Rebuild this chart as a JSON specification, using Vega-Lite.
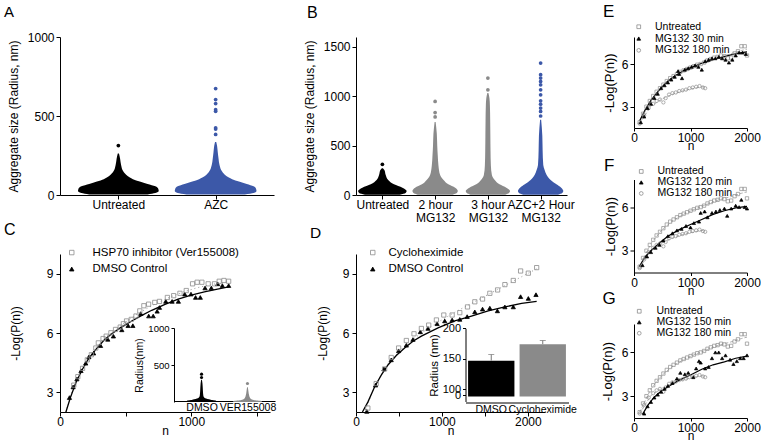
{
"$schema":"https://vega.github.io/schema/vega-lite/v6.json",
"padding":{"left":4,"top":3,"right":0,"bottom":0},
"config":{
 "view":{"stroke":null},
 "font":"Liberation Sans",
 "axis":{"domainColor":"#000","tickColor":"#000","labelColor":"#000","titleColor":"#000","grid":false,"titleFontWeight":"normal","labelFontSize":12,"titleFontSize":12,"tickSize":4,"labelPadding":2,"labelFlush":false,"labelOverlap":false,"labelBound":false,"labelFont":"Liberation Sans","titleFont":"Liberation Sans"},
 "title":{"fontWeight":"normal","anchor":"start","frame":"group","color":"#000","offset":4,"font":"Liberation Sans"},
 "legend":{"padding":0,"labelFontSize":11,"labelColor":"#000","symbolStrokeWidth":0.8,"labelFont":"Liberation Sans"}
},
"datasets":{
 "swA":[
  {"g":"Untreated","v":3,"lo":0.7,"hi":1.3},{"g":"Untreated","v":12,"lo":0.62,"hi":1.38},{"g":"Untreated","v":25,"lo":0.585,"hi":1.415},{"g":"Untreated","v":40,"lo":0.59,"hi":1.41},{"g":"Untreated","v":55,"lo":0.62,"hi":1.38},{"g":"Untreated","v":70,"lo":0.7,"hi":1.3},{"g":"Untreated","v":85,"lo":0.78,"hi":1.22},{"g":"Untreated","v":100,"lo":0.85,"hi":1.15},{"g":"Untreated","v":120,"lo":0.905,"hi":1.095},{"g":"Untreated","v":150,"lo":0.95,"hi":1.05},{"g":"Untreated","v":190,"lo":0.972,"hi":1.028},{"g":"Untreated","v":230,"lo":0.982,"hi":1.018},{"g":"Untreated","v":262,"lo":0.994,"hi":1.006},
  {"g":"AZC","v":3,"lo":1.7,"hi":2.3},{"g":"AZC","v":12,"lo":1.61,"hi":2.39},{"g":"AZC","v":25,"lo":1.58,"hi":2.42},{"g":"AZC","v":40,"lo":1.585,"hi":2.415},{"g":"AZC","v":55,"lo":1.61,"hi":2.39},{"g":"AZC","v":70,"lo":1.68,"hi":2.32},{"g":"AZC","v":85,"lo":1.76,"hi":2.24},{"g":"AZC","v":100,"lo":1.83,"hi":2.17},{"g":"AZC","v":120,"lo":1.89,"hi":2.11},{"g":"AZC","v":150,"lo":1.935,"hi":2.065},{"g":"AZC","v":190,"lo":1.96,"hi":2.04},{"g":"AZC","v":230,"lo":1.97,"hi":2.03},{"g":"AZC","v":270,"lo":1.978,"hi":2.022},{"g":"AZC","v":310,"lo":1.985,"hi":2.015},{"g":"AZC","v":335,"lo":1.994,"hi":2.006}
 ],
 "ptA":[
  {"g":"Untreated","pos":1,"v":313},
  {"g":"AZC","pos":2,"v":383},{"g":"AZC","pos":2,"v":417},{"g":"AZC","pos":2,"v":425},{"g":"AZC","pos":2,"v":530},{"g":"AZC","pos":2,"v":540},{"g":"AZC","pos":2,"v":579},{"g":"AZC","pos":2,"v":604},{"g":"AZC","pos":2,"v":674}
 ],
 "swB":[
  {"g":"Untreated","v":3,"lo":0.67,"hi":1.33},{"g":"Untreated","v":20,"lo":0.56,"hi":1.44},{"g":"Untreated","v":40,"lo":0.54,"hi":1.46},{"g":"Untreated","v":74,"lo":0.62,"hi":1.38},{"g":"Untreated","v":108,"lo":0.78,"hi":1.22},{"g":"Untreated","v":152,"lo":0.89,"hi":1.11},{"g":"Untreated","v":203,"lo":0.937,"hi":1.063},{"g":"Untreated","v":254,"lo":0.962,"hi":1.038},{"g":"Untreated","v":272,"lo":0.99,"hi":1.01},
  {"g":"2 hour","v":3,"lo":1.67,"hi":2.33},{"g":"2 hour","v":20,"lo":1.59,"hi":2.41},{"g":"2 hour","v":40,"lo":1.57,"hi":2.43},{"g":"2 hour","v":74,"lo":1.62,"hi":2.38},{"g":"2 hour","v":108,"lo":1.75,"hi":2.25},{"g":"2 hour","v":152,"lo":1.84,"hi":2.16},{"g":"2 hour","v":203,"lo":1.905,"hi":2.095},{"g":"2 hour","v":300,"lo":1.937,"hi":2.063},{"g":"2 hour","v":400,"lo":1.95,"hi":2.05},{"g":"2 hour","v":500,"lo":1.96,"hi":2.04},{"g":"2 hour","v":620,"lo":1.968,"hi":2.032},{"g":"2 hour","v":740,"lo":1.99,"hi":2.01},
  {"g":"3 hour","v":3,"lo":2.67,"hi":3.33},{"g":"3 hour","v":20,"lo":2.6,"hi":3.4},{"g":"3 hour","v":40,"lo":2.58,"hi":3.42},{"g":"3 hour","v":74,"lo":2.65,"hi":3.35},{"g":"3 hour","v":108,"lo":2.78,"hi":3.22},{"g":"3 hour","v":152,"lo":2.87,"hi":3.13},{"g":"3 hour","v":203,"lo":2.924,"hi":3.076},{"g":"3 hour","v":300,"lo":2.943,"hi":3.057},{"g":"3 hour","v":450,"lo":2.95,"hi":3.05},{"g":"3 hour","v":600,"lo":2.953,"hi":3.047},{"g":"3 hour","v":750,"lo":2.956,"hi":3.044},{"g":"3 hour","v":913,"lo":2.962,"hi":3.038},{"g":"3 hour","v":981,"lo":2.97,"hi":3.03},{"g":"3 hour","v":1032,"lo":2.99,"hi":3.01},
  {"g":"AZC+2 Hour","v":3,"lo":3.67,"hi":4.33},{"g":"AZC+2 Hour","v":20,"lo":3.59,"hi":4.41},{"g":"AZC+2 Hour","v":40,"lo":3.57,"hi":4.43},{"g":"AZC+2 Hour","v":74,"lo":3.61,"hi":4.39},{"g":"AZC+2 Hour","v":108,"lo":3.7,"hi":4.3},{"g":"AZC+2 Hour","v":152,"lo":3.81,"hi":4.19},{"g":"AZC+2 Hour","v":203,"lo":3.886,"hi":4.114},{"g":"AZC+2 Hour","v":254,"lo":3.924,"hi":4.076},{"g":"AZC+2 Hour","v":305,"lo":3.95,"hi":4.05},{"g":"AZC+2 Hour","v":450,"lo":3.962,"hi":4.038},{"g":"AZC+2 Hour","v":600,"lo":3.968,"hi":4.032},{"g":"AZC+2 Hour","v":761,"lo":3.99,"hi":4.01}
 ],
 "ptB":[
  {"g":"Untreated","pos":1,"v":311},
  {"g":"2 hour","pos":2,"v":790},{"g":"2 hour","pos":2,"v":835},{"g":"2 hour","pos":2,"v":947},
  {"g":"3 hour","pos":3,"v":1065},{"g":"3 hour","pos":3,"v":1184},
  {"g":"AZC+2 Hour","pos":4,"v":800},{"g":"AZC+2 Hour","pos":4,"v":846},{"g":"AZC+2 Hour","pos":4,"v":880},{"g":"AZC+2 Hour","pos":4,"v":920},{"g":"AZC+2 Hour","pos":4,"v":954},{"g":"AZC+2 Hour","pos":4,"v":1014},{"g":"AZC+2 Hour","pos":4,"v":1065},{"g":"AZC+2 Hour","pos":4,"v":1116},{"g":"AZC+2 Hour","pos":4,"v":1150},{"g":"AZC+2 Hour","pos":4,"v":1184},{"g":"AZC+2 Hour","pos":4,"v":1218},{"g":"AZC+2 Hour","pos":4,"v":1336}
 ],
 "cPts":[
  {"s":"DMSO Control","n":72,"y":2.73},{"s":"DMSO Control","n":100,"y":3.27},{"s":"DMSO Control","n":129,"y":3.67},{"s":"DMSO Control","n":160,"y":4.09},{"s":"DMSO Control","n":196,"y":4.47},{"s":"DMSO Control","n":220,"y":4.79},{"s":"DMSO Control","n":256,"y":4.98},{"s":"DMSO Control","n":309,"y":5.36},{"s":"DMSO Control","n":364,"y":5.68},{"s":"DMSO Control","n":407,"y":5.84},{"s":"DMSO Control","n":471,"y":6.16},{"s":"DMSO Control","n":519,"y":6.37},{"s":"DMSO Control","n":555,"y":6.37},{"s":"DMSO Control","n":615,"y":6.98},{"s":"DMSO Control","n":676,"y":6.86},{"s":"DMSO Control","n":710,"y":6.86},{"s":"DMSO Control","n":740,"y":7.1},{"s":"DMSO Control","n":758,"y":7.29},{"s":"DMSO Control","n":806,"y":7.6},{"s":"DMSO Control","n":854,"y":7.6},{"s":"DMSO Control","n":902,"y":7.6},{"s":"DMSO Control","n":950,"y":7.97},{"s":"DMSO Control","n":998,"y":7.97},{"s":"DMSO Control","n":1033,"y":7.8},{"s":"DMSO Control","n":1069,"y":7.8},{"s":"DMSO Control","n":1105,"y":8.28},{"s":"DMSO Control","n":1153,"y":8.28},{"s":"DMSO Control","n":1201,"y":8.49},{"s":"DMSO Control","n":1237,"y":8.4},{"s":"DMSO Control","n":1285,"y":8.4},
  {"s":"HSP70 inhibitor (Ver155008)","n":105,"y":3.36},{"s":"HSP70 inhibitor (Ver155008)","n":136,"y":3.79},{"s":"HSP70 inhibitor (Ver155008)","n":172,"y":4.21},{"s":"HSP70 inhibitor (Ver155008)","n":208,"y":4.64},{"s":"HSP70 inhibitor (Ver155008)","n":239,"y":4.9},{"s":"HSP70 inhibitor (Ver155008)","n":273,"y":5.24},{"s":"HSP70 inhibitor (Ver155008)","n":292,"y":5.5},{"s":"HSP70 inhibitor (Ver155008)","n":328,"y":5.72},{"s":"HSP70 inhibitor (Ver155008)","n":352,"y":5.84},{"s":"HSP70 inhibitor (Ver155008)","n":388,"y":6.01},{"s":"HSP70 inhibitor (Ver155008)","n":423,"y":6.18},{"s":"HSP70 inhibitor (Ver155008)","n":459,"y":6.3},{"s":"HSP70 inhibitor (Ver155008)","n":483,"y":6.47},{"s":"HSP70 inhibitor (Ver155008)","n":507,"y":6.61},{"s":"HSP70 inhibitor (Ver155008)","n":543,"y":6.69},{"s":"HSP70 inhibitor (Ver155008)","n":579,"y":6.86},{"s":"HSP70 inhibitor (Ver155008)","n":608,"y":7.12},{"s":"HSP70 inhibitor (Ver155008)","n":639,"y":7.38},{"s":"HSP70 inhibitor (Ver155008)","n":675,"y":7.46},{"s":"HSP70 inhibitor (Ver155008)","n":722,"y":7.55},{"s":"HSP70 inhibitor (Ver155008)","n":758,"y":7.6},{"s":"HSP70 inhibitor (Ver155008)","n":818,"y":7.8},{"s":"HSP70 inhibitor (Ver155008)","n":866,"y":7.89},{"s":"HSP70 inhibitor (Ver155008)","n":914,"y":8.01},{"s":"HSP70 inhibitor (Ver155008)","n":962,"y":8.15},{"s":"HSP70 inhibitor (Ver155008)","n":1010,"y":8.49},{"s":"HSP70 inhibitor (Ver155008)","n":1045,"y":8.57},{"s":"HSP70 inhibitor (Ver155008)","n":1081,"y":8.57},{"s":"HSP70 inhibitor (Ver155008)","n":1129,"y":8.49},{"s":"HSP70 inhibitor (Ver155008)","n":1177,"y":8.49},{"s":"HSP70 inhibitor (Ver155008)","n":1213,"y":8.62},{"s":"HSP70 inhibitor (Ver155008)","n":1249,"y":8.66},{"s":"HSP70 inhibitor (Ver155008)","n":1285,"y":8.62}
 ],
 "cFit":[
  {"s":"D","n":45,"y":2.0},{"s":"D","n":80,"y":2.75},{"s":"D","n":124,"y":3.53},{"s":"D","n":170,"y":4.15},{"s":"D","n":220,"y":4.73},{"s":"D","n":280,"y":5.22},{"s":"D","n":340,"y":5.67},{"s":"D","n":400,"y":5.99},{"s":"D","n":459,"y":6.26},{"s":"D","n":550,"y":6.62},{"s":"D","n":620,"y":6.88},{"s":"D","n":699,"y":7.15},{"s":"D","n":800,"y":7.45},{"s":"D","n":900,"y":7.72},{"s":"D","n":1000,"y":7.92},{"s":"D","n":1100,"y":8.08},{"s":"D","n":1200,"y":8.22},{"s":"D","n":1285,"y":8.33},
  {"s":"H","n":45,"y":2.0},{"s":"H","n":100,"y":3.2},{"s":"H","n":170,"y":4.3},{"s":"H","n":250,"y":5.1},{"s":"H","n":350,"y":5.8},{"s":"H","n":450,"y":6.3},{"s":"H","n":550,"y":6.8},{"s":"H","n":650,"y":7.2},{"s":"H","n":750,"y":7.55},{"s":"H","n":850,"y":7.85},{"s":"H","n":950,"y":8.1},{"s":"H","n":1050,"y":8.3},{"s":"H","n":1150,"y":8.45},{"s":"H","n":1285,"y":8.6}
 ],
 "cInSw":[
  {"g":"DMSO","v":0,"lo":0.7,"hi":1.3},{"g":"DMSO","v":15,"lo":0.68,"hi":1.32},{"g":"DMSO","v":30,"lo":0.8,"hi":1.2},{"g":"DMSO","v":50,"lo":0.92,"hi":1.08},{"g":"DMSO","v":80,"lo":0.96,"hi":1.04},{"g":"DMSO","v":150,"lo":0.97,"hi":1.03},{"g":"DMSO","v":250,"lo":0.98,"hi":1.02},{"g":"DMSO","v":300,"lo":0.992,"hi":1.008},
  {"g":"VER155008","v":0,"lo":1.7,"hi":2.3},{"g":"VER155008","v":12,"lo":1.68,"hi":2.32},{"g":"VER155008","v":25,"lo":1.85,"hi":2.15},{"g":"VER155008","v":45,"lo":1.93,"hi":2.07},{"g":"VER155008","v":80,"lo":1.96,"hi":2.04},{"g":"VER155008","v":150,"lo":1.98,"hi":2.02},{"g":"VER155008","v":200,"lo":1.992,"hi":2.008}
 ],
 "cInPt":[{"g":"DMSO","pos":1,"v":331},{"g":"DMSO","pos":1,"v":376},{"g":"VER155008","pos":2,"v":250}],
 "dPts":[
  {"s":"DMSO Control","n":126,"y":2.03},{"s":"DMSO Control","n":228,"y":3.36},{"s":"DMSO Control","n":325,"y":4.18},{"s":"DMSO Control","n":410,"y":4.64},{"s":"DMSO Control","n":496,"y":5.1},{"s":"DMSO Control","n":586,"y":5.38},{"s":"DMSO Control","n":663,"y":5.67},{"s":"DMSO Control","n":749,"y":6.06},{"s":"DMSO Control","n":838,"y":6.23},{"s":"DMSO Control","n":944,"y":6.47},{"s":"DMSO Control","n":1033,"y":6.61},{"s":"DMSO Control","n":1119,"y":6.66},{"s":"DMSO Control","n":1208,"y":6.69},{"s":"DMSO Control","n":1294,"y":6.83},{"s":"DMSO Control","n":1383,"y":7.07},{"s":"DMSO Control","n":1473,"y":7.21},{"s":"DMSO Control","n":1558,"y":7.26},{"s":"DMSO Control","n":1646,"y":7.12},{"s":"DMSO Control","n":1733,"y":7.32},{"s":"DMSO Control","n":1831,"y":7.32},{"s":"DMSO Control","n":1916,"y":7.84},{"s":"DMSO Control","n":2006,"y":7.75},{"s":"DMSO Control","n":2095,"y":7.94},
  {"s":"Cycloheximide","n":138,"y":2.2},{"s":"Cycloheximide","n":235,"y":3.44},{"s":"Cycloheximide","n":333,"y":4.18},{"s":"Cycloheximide","n":410,"y":4.76},{"s":"Cycloheximide","n":496,"y":5.24},{"s":"Cycloheximide","n":586,"y":5.62},{"s":"Cycloheximide","n":675,"y":5.96},{"s":"Cycloheximide","n":761,"y":6.23},{"s":"Cycloheximide","n":846,"y":6.4},{"s":"Cycloheximide","n":936,"y":6.66},{"s":"Cycloheximide","n":1022,"y":6.91},{"s":"Cycloheximide","n":1119,"y":6.91},{"s":"Cycloheximide","n":1208,"y":7.03},{"s":"Cycloheximide","n":1298,"y":7.32},{"s":"Cycloheximide","n":1383,"y":7.58},{"s":"Cycloheximide","n":1473,"y":7.72},{"s":"Cycloheximide","n":1558,"y":8.01},{"s":"Cycloheximide","n":1648,"y":8.18},{"s":"Cycloheximide","n":1733,"y":8.45},{"s":"Cycloheximide","n":1831,"y":8.66},{"s":"Cycloheximide","n":1916,"y":9.14},{"s":"Cycloheximide","n":2006,"y":9.03},{"s":"Cycloheximide","n":2103,"y":9.31}
 ],
 "dFit":[
  {"s":"D","n":75,"y":2.0},{"s":"D","n":138,"y":2.5},{"s":"D","n":216,"y":3.27},{"s":"D","n":294,"y":3.87},{"s":"D","n":372,"y":4.38},{"s":"D","n":469,"y":4.86},{"s":"D","n":566,"y":5.24},{"s":"D","n":663,"y":5.58},{"s":"D","n":761,"y":5.84},{"s":"D","n":955,"y":6.26},{"s":"D","n":1150,"y":6.61},{"s":"D","n":1344,"y":6.86},{"s":"D","n":1539,"y":7.12},{"s":"D","n":1733,"y":7.32},{"s":"D","n":1928,"y":7.5},{"s":"D","n":2103,"y":7.6},
  {"s":"C","n":110,"y":2.1},{"s":"C","n":216,"y":3.3},{"s":"C","n":372,"y":4.45},{"s":"C","n":566,"y":5.35},{"s":"C","n":761,"y":6.0},{"s":"C","n":955,"y":6.55},{"s":"C","n":1150,"y":7.05},{"s":"C","n":1344,"y":7.5},{"s":"C","n":1539,"y":7.95},{"s":"C","n":1733,"y":8.4},{"s":"C","n":1928,"y":8.85},{"s":"C","n":2103,"y":9.25}
 ],
 "dBar":[{"g":"DMSO","v":147,"e":157},{"g":"Cycloheximide","v":174,"e":180}],
 "efg":[
  {"p":"all","s":"Untreated","n":100,"y":1.9},{"p":"all","s":"Untreated","n":160,"y":2.5},{"p":"all","s":"Untreated","n":220,"y":3.0},{"p":"all","s":"Untreated","n":280,"y":3.4},{"p":"all","s":"Untreated","n":340,"y":3.75},{"p":"all","s":"Untreated","n":400,"y":4.05},{"p":"all","s":"Untreated","n":460,"y":4.3},{"p":"all","s":"Untreated","n":520,"y":4.55},{"p":"all","s":"Untreated","n":580,"y":4.8},{"p":"all","s":"Untreated","n":640,"y":5.0},{"p":"all","s":"Untreated","n":700,"y":5.15},{"p":"all","s":"Untreated","n":760,"y":5.3},{"p":"all","s":"Untreated","n":820,"y":5.45},{"p":"all","s":"Untreated","n":880,"y":5.55},{"p":"all","s":"Untreated","n":940,"y":5.65},{"p":"all","s":"Untreated","n":1000,"y":5.75},{"p":"all","s":"Untreated","n":1060,"y":5.85},{"p":"all","s":"Untreated","n":1120,"y":5.95},{"p":"all","s":"Untreated","n":1180,"y":6.0},{"p":"all","s":"Untreated","n":1240,"y":6.1},{"p":"all","s":"Untreated","n":1300,"y":6.25},{"p":"all","s":"Untreated","n":1360,"y":6.35},{"p":"all","s":"Untreated","n":1420,"y":6.45},{"p":"all","s":"Untreated","n":1480,"y":6.5},{"p":"all","s":"Untreated","n":1540,"y":6.6},{"p":"all","s":"Untreated","n":1600,"y":6.55},{"p":"all","s":"Untreated","n":1660,"y":6.4},{"p":"all","s":"Untreated","n":1720,"y":6.45},{"p":"all","s":"Untreated","n":1780,"y":6.75},{"p":"all","s":"Untreated","n":1840,"y":6.9},{"p":"all","s":"Untreated","n":1900,"y":7.25},{"p":"all","s":"Untreated","n":1960,"y":7.25},{"p":"all","s":"Untreated","n":2000,"y":6.6},
  {"p":"all","s":"MG132 180 min","n":100,"y":1.8},{"p":"all","s":"MG132 180 min","n":180,"y":2.4},{"p":"all","s":"MG132 180 min","n":260,"y":2.9},{"p":"all","s":"MG132 180 min","n":340,"y":3.2},{"p":"all","s":"MG132 180 min","n":400,"y":3.4},{"p":"all","s":"MG132 180 min","n":460,"y":3.5},{"p":"all","s":"MG132 180 min","n":520,"y":3.3},{"p":"all","s":"MG132 180 min","n":560,"y":3.6},{"p":"all","s":"MG132 180 min","n":620,"y":3.85},{"p":"all","s":"MG132 180 min","n":680,"y":3.95},{"p":"all","s":"MG132 180 min","n":740,"y":4.0},{"p":"all","s":"MG132 180 min","n":800,"y":4.1},{"p":"all","s":"MG132 180 min","n":860,"y":4.15},{"p":"all","s":"MG132 180 min","n":920,"y":4.2},{"p":"all","s":"MG132 180 min","n":980,"y":4.3},{"p":"all","s":"MG132 180 min","n":1040,"y":4.35},{"p":"all","s":"MG132 180 min","n":1100,"y":4.4},{"p":"all","s":"MG132 180 min","n":1160,"y":4.45},{"p":"all","s":"MG132 180 min","n":1220,"y":4.35},{"p":"all","s":"MG132 180 min","n":1260,"y":4.3},
  {"p":"E","s":"MG132 30 min","n":120,"y":1.9},{"p":"E","s":"MG132 30 min","n":180,"y":2.3},{"p":"E","s":"MG132 30 min","n":240,"y":2.9},{"p":"E","s":"MG132 30 min","n":300,"y":3.2},{"p":"E","s":"MG132 30 min","n":360,"y":3.6},{"p":"E","s":"MG132 30 min","n":420,"y":3.9},{"p":"E","s":"MG132 30 min","n":480,"y":4.3},{"p":"E","s":"MG132 30 min","n":540,"y":4.5},{"p":"E","s":"MG132 30 min","n":600,"y":4.7},{"p":"E","s":"MG132 30 min","n":660,"y":4.9},{"p":"E","s":"MG132 30 min","n":720,"y":5.1},{"p":"E","s":"MG132 30 min","n":780,"y":5.5},{"p":"E","s":"MG132 30 min","n":800,"y":5.3},{"p":"E","s":"MG132 30 min","n":850,"y":5.0},{"p":"E","s":"MG132 30 min","n":900,"y":5.6},{"p":"E","s":"MG132 30 min","n":960,"y":5.7},{"p":"E","s":"MG132 30 min","n":1020,"y":5.8},{"p":"E","s":"MG132 30 min","n":1080,"y":5.9},{"p":"E","s":"MG132 30 min","n":1140,"y":5.8},{"p":"E","s":"MG132 30 min","n":1200,"y":5.6},{"p":"E","s":"MG132 30 min","n":1260,"y":6.2},{"p":"E","s":"MG132 30 min","n":1320,"y":6.3},{"p":"E","s":"MG132 30 min","n":1380,"y":6.4},{"p":"E","s":"MG132 30 min","n":1440,"y":6.4},{"p":"E","s":"MG132 30 min","n":1500,"y":6.5},{"p":"E","s":"MG132 30 min","n":1560,"y":6.4},{"p":"E","s":"MG132 30 min","n":1620,"y":6.3},{"p":"E","s":"MG132 30 min","n":1680,"y":6.1},{"p":"E","s":"MG132 30 min","n":1740,"y":6.3},{"p":"E","s":"MG132 30 min","n":1800,"y":6.6},{"p":"E","s":"MG132 30 min","n":1860,"y":6.8},{"p":"E","s":"MG132 30 min","n":1920,"y":6.8},{"p":"E","s":"MG132 30 min","n":1980,"y":6.7},
  {"p":"F","s":"MG132 120 min","n":150,"y":2.0},{"p":"F","s":"MG132 120 min","n":230,"y":2.6},{"p":"F","s":"MG132 120 min","n":300,"y":2.9},{"p":"F","s":"MG132 120 min","n":380,"y":3.2},{"p":"F","s":"MG132 120 min","n":450,"y":3.4},{"p":"F","s":"MG132 120 min","n":520,"y":3.7},{"p":"F","s":"MG132 120 min","n":600,"y":4.0},{"p":"F","s":"MG132 120 min","n":680,"y":4.2},{"p":"F","s":"MG132 120 min","n":760,"y":4.4},{"p":"F","s":"MG132 120 min","n":840,"y":4.5},{"p":"F","s":"MG132 120 min","n":920,"y":4.7},{"p":"F","s":"MG132 120 min","n":1000,"y":4.6},{"p":"F","s":"MG132 120 min","n":1060,"y":4.9},{"p":"F","s":"MG132 120 min","n":1150,"y":5.0},{"p":"F","s":"MG132 120 min","n":1180,"y":5.6},{"p":"F","s":"MG132 120 min","n":1250,"y":5.7},{"p":"F","s":"MG132 120 min","n":1300,"y":5.3},{"p":"F","s":"MG132 120 min","n":1380,"y":5.6},{"p":"F","s":"MG132 120 min","n":1450,"y":5.7},{"p":"F","s":"MG132 120 min","n":1520,"y":5.8},{"p":"F","s":"MG132 120 min","n":1600,"y":5.9},{"p":"F","s":"MG132 120 min","n":1650,"y":5.4},{"p":"F","s":"MG132 120 min","n":1720,"y":5.9},{"p":"F","s":"MG132 120 min","n":1800,"y":6.1},{"p":"F","s":"MG132 120 min","n":1860,"y":6.0},{"p":"F","s":"MG132 120 min","n":1900,"y":6.5},{"p":"F","s":"MG132 120 min","n":1960,"y":6.0},{"p":"F","s":"MG132 120 min","n":2000,"y":5.9},
  {"p":"G","s":"MG132 150 min","n":180,"y":1.8},{"p":"G","s":"MG132 150 min","n":240,"y":2.3},{"p":"G","s":"MG132 150 min","n":300,"y":2.6},{"p":"G","s":"MG132 150 min","n":360,"y":2.9},{"p":"G","s":"MG132 150 min","n":420,"y":3.1},{"p":"G","s":"MG132 150 min","n":480,"y":3.3},{"p":"G","s":"MG132 150 min","n":540,"y":3.5},{"p":"G","s":"MG132 150 min","n":600,"y":3.7},{"p":"G","s":"MG132 150 min","n":680,"y":3.9},{"p":"G","s":"MG132 150 min","n":760,"y":4.2},{"p":"G","s":"MG132 150 min","n":820,"y":4.6},{"p":"G","s":"MG132 150 min","n":900,"y":4.5},{"p":"G","s":"MG132 150 min","n":960,"y":4.6},{"p":"G","s":"MG132 150 min","n":1050,"y":4.3},{"p":"G","s":"MG132 150 min","n":1100,"y":4.9},{"p":"G","s":"MG132 150 min","n":1150,"y":5.4},{"p":"G","s":"MG132 150 min","n":1180,"y":5.3},{"p":"G","s":"MG132 150 min","n":1260,"y":4.9},{"p":"G","s":"MG132 150 min","n":1320,"y":5.0},{"p":"G","s":"MG132 150 min","n":1380,"y":5.6},{"p":"G","s":"MG132 150 min","n":1440,"y":6.0},{"p":"G","s":"MG132 150 min","n":1500,"y":6.0},{"p":"G","s":"MG132 150 min","n":1560,"y":5.6},{"p":"G","s":"MG132 150 min","n":1620,"y":5.8},{"p":"G","s":"MG132 150 min","n":1700,"y":5.5},{"p":"G","s":"MG132 150 min","n":1760,"y":5.2},{"p":"G","s":"MG132 150 min","n":1820,"y":5.4},{"p":"G","s":"MG132 150 min","n":1880,"y":5.6},{"p":"G","s":"MG132 150 min","n":1940,"y":5.6},{"p":"G","s":"MG132 150 min","n":2000,"y":5.8}
 ],
 "efgFit":[
  {"p":"all","s":"U","n":100,"y":1.9},{"p":"all","s":"U","n":300,"y":3.5},{"p":"all","s":"U","n":500,"y":4.45},{"p":"all","s":"U","n":700,"y":5.1},{"p":"all","s":"U","n":900,"y":5.55},{"p":"all","s":"U","n":1100,"y":5.9},{"p":"all","s":"U","n":1300,"y":6.2},{"p":"all","s":"U","n":1500,"y":6.5},{"p":"all","s":"U","n":1700,"y":6.7},{"p":"all","s":"U","n":1900,"y":6.95},{"p":"all","s":"U","n":2000,"y":7.05},
  {"p":"all","s":"L","n":100,"y":1.8},{"p":"all","s":"L","n":300,"y":3.05},{"p":"all","s":"L","n":500,"y":3.55},{"p":"all","s":"L","n":700,"y":3.9},{"p":"all","s":"L","n":900,"y":4.15},{"p":"all","s":"L","n":1100,"y":4.32},{"p":"all","s":"L","n":1260,"y":4.42},
  {"p":"E","s":"M","n":100,"y":2.0},{"p":"E","s":"M","n":200,"y":2.8},{"p":"E","s":"M","n":300,"y":3.45},{"p":"E","s":"M","n":400,"y":3.95},{"p":"E","s":"M","n":500,"y":4.4},{"p":"E","s":"M","n":600,"y":4.8},{"p":"E","s":"M","n":700,"y":5.1},{"p":"E","s":"M","n":800,"y":5.35},{"p":"E","s":"M","n":900,"y":5.6},{"p":"E","s":"M","n":1000,"y":5.75},{"p":"E","s":"M","n":1100,"y":5.9},{"p":"E","s":"M","n":1200,"y":6.05},{"p":"E","s":"M","n":1300,"y":6.18},{"p":"E","s":"M","n":1400,"y":6.3},{"p":"E","s":"M","n":1500,"y":6.42},{"p":"E","s":"M","n":1600,"y":6.52},{"p":"E","s":"M","n":1700,"y":6.62},{"p":"E","s":"M","n":1800,"y":6.72},{"p":"E","s":"M","n":1900,"y":6.8},{"p":"E","s":"M","n":2000,"y":6.85},
  {"p":"F","s":"M","n":90,"y":1.9},{"p":"F","s":"M","n":200,"y":2.6},{"p":"F","s":"M","n":300,"y":3.0},{"p":"F","s":"M","n":470,"y":3.6},{"p":"F","s":"M","n":600,"y":4.0},{"p":"F","s":"M","n":800,"y":4.45},{"p":"F","s":"M","n":1000,"y":4.8},{"p":"F","s":"M","n":1200,"y":5.15},{"p":"F","s":"M","n":1400,"y":5.5},{"p":"F","s":"M","n":1600,"y":5.75},{"p":"F","s":"M","n":1800,"y":5.95},{"p":"F","s":"M","n":2000,"y":6.05},
  {"p":"G","s":"M","n":150,"y":1.75},{"p":"G","s":"M","n":250,"y":2.4},{"p":"G","s":"M","n":350,"y":2.9},{"p":"G","s":"M","n":450,"y":3.25},{"p":"G","s":"M","n":600,"y":3.65},{"p":"G","s":"M","n":800,"y":4.1},{"p":"G","s":"M","n":1000,"y":4.45},{"p":"G","s":"M","n":1200,"y":4.85},{"p":"G","s":"M","n":1400,"y":5.15},{"p":"G","s":"M","n":1600,"y":5.35},{"p":"G","s":"M","n":1800,"y":5.6},{"p":"G","s":"M","n":2000,"y":5.75}
 ]
},
"spacing":24,
"resolve":{"scale":{"color":"independent","shape":"independent","fill":"independent","stroke":"independent"}},
"hconcat":[
 {"columns":2,"bounds":"flush","spacing":{"row":59,"column":82},
  "resolve":{"scale":{"color":"independent","shape":"independent","fill":"independent","stroke":"independent"}},
  "concat":[
    {"width":214,"height":158,
     "title":{"text":"A","dx":-56,"fontSize":15,"offset":11},
     "layer":[
      {"data":{"name":"swA"},"mark":{"type":"area","orient":"horizontal","interpolate":"monotone"},
       "encoding":{
        "y":{"field":"v","type":"quantitative","scale":{"domain":[0,1000]},"axis":{"title":"Aggregate size (Radius, nm)","values":[0,250,500,750,1000],"labelExpr":"datum.value % 500 == 0 ? datum.label : ''","format":"d","titlePadding":7}},
        "x":{"field":"lo","type":"quantitative","scale":{"domain":[0.5,2.5]},"axis":{"title":null,"values":[1,2],"labelExpr":"datum.value == 1 ? 'Untreated' : 'AZC'","labelPadding":0}},
        "x2":{"field":"hi"},
        "color":{"field":"g","type":"nominal","scale":{"domain":["Untreated","AZC"],"range":["#000000","#3c58a8"]},"legend":null}}},
      {"data":{"name":"ptA"},"mark":{"type":"circle","size":14,"opacity":1},
       "encoding":{"x":{"field":"pos","type":"quantitative"},"y":{"field":"v","type":"quantitative"},"color":{"field":"g","type":"nominal","legend":null}}}
     ]},
    {"width":211,"height":158,
     "title":{"text":"B","dx":-49,"fontSize":16,"offset":16},
     "layer":[
      {"data":{"name":"swB"},"mark":{"type":"area","orient":"horizontal","interpolate":"monotone"},
       "encoding":{
        "y":{"field":"v","type":"quantitative","scale":{"domain":[0,1600]},"axis":{"title":"Aggregate size (Radius, nm)","values":[0,250,500,750,1000,1250,1500],"labelExpr":"datum.value % 500 == 0 ? datum.label : ''","format":"d","titlePadding":7}},
        "x":{"field":"lo","type":"quantitative","scale":{"domain":[0.5,4.5]},"axis":{"title":null,"values":[1,2,3,4],"labelExpr":"datum.value == 1 ? 'Untreated' : datum.value == 2 ? ['2 hour','MG132'] : datum.value == 3 ? ['3 hour','MG132'] : ['AZC+2 Hour','MG132']","labelPadding":0,"labelLineHeight":13}},
        "x2":{"field":"hi"},
        "color":{"field":"g","type":"nominal","scale":{"domain":["Untreated","2 hour","3 hour","AZC+2 Hour"],"range":["#000000","#8a8a8a","#8a8a8a","#3c58a8"]},"legend":null}}},
      {"data":{"name":"ptB"},"mark":{"type":"circle","size":14,"opacity":1},
       "encoding":{"x":{"field":"pos","type":"quantitative"},"y":{"field":"v","type":"quantitative"},"color":{"field":"g","type":"nominal","legend":null}}}
     ]},
    {"width":210,"height":158,
     "title":{"text":"C","dx":-56,"fontSize":16,"offset":9},
     "resolve":{"scale":{"x":"independent","y":"independent"},"axis":{"x":"independent","y":"independent"}},
     "layer":[
      {"layer":[
        {"data":{"name":"cFit"},"transform":[{"filter":"datum.s == 'H'"}],"mark":{"type":"line","color":"#999999","strokeWidth":1,"strokeDash":[1,3]},
         "encoding":{
          "x":{"field":"n","type":"quantitative","scale":{"domain":[0,1500]},"axis":{"title":"n","values":[0,500,1000,1500],"labelExpr":"datum.value % 1000 == 0 ? datum.label : ''","format":"d","labelPadding":0.5,"titlePadding":-2}},
          "y":{"field":"y","type":"quantitative","scale":{"domain":[2,10]},"axis":{"title":"-Log(P(n))","values":[3,4.5,6,7.5,9],"labelExpr":"datum.value % 3 == 0 ? datum.label : ''","titlePadding":24,"labelPadding":3}}}},
        {"data":{"name":"cFit"},"transform":[{"filter":"datum.s == 'D'"}],"mark":{"type":"line","color":"#000000","strokeWidth":1.3},
         "encoding":{"x":{"field":"n","type":"quantitative"},"y":{"field":"y","type":"quantitative"}}},
        {"data":{"name":"cPts"},"mark":{"type":"point","opacity":1,"strokeWidth":0.8,"size":18},
         "encoding":{"x":{"field":"n","type":"quantitative"},"y":{"field":"y","type":"quantitative"},
          "shape":{"field":"s","type":"nominal","scale":{"domain":["HSP70 inhibitor (Ver155008)","DMSO Control"],"range":["square","triangle-up"]},"legend":{"title":null,"orient":"none","legendX":6,"legendY":-7.2,"labelFontSize":11.5,"rowPadding":3.5,"labelOffset":15,"symbolSize":20}},
          "stroke":{"field":"s","type":"nominal","scale":{"domain":["HSP70 inhibitor (Ver155008)","DMSO Control"],"range":["#8c8c8c","#000000"]},"legend":{"title":null,"orient":"none","legendX":6,"legendY":-7.2,"labelFontSize":11.5,"rowPadding":3.5,"labelOffset":15,"symbolSize":20}},
          "fill":{"field":"s","type":"nominal","scale":{"domain":["HSP70 inhibitor (Ver155008)","DMSO Control"],"range":["transparent","#000000"]},"legend":{"title":null,"orient":"none","legendX":6,"legendY":-7.2,"labelFontSize":11.5,"rowPadding":3.5,"labelOffset":15,"symbolSize":20}}}}
      ]},
      {"layer":[
        {"data":{"name":"cInSw"},"mark":{"type":"area","orient":"horizontal","interpolate":"monotone"},
         "encoding":{
          "y":{"field":"v","type":"quantitative","scale":{"domain":[0,1000],"range":[148,74]},"axis":{"orient":"left","offset":-114,"title":"Radius(nm)","titleFontSize":10.5,"labelFontSize":9.5,"values":[500,1000],"format":"d","tickSize":3,"titlePadding":3}},
          "x":{"field":"lo","type":"quantitative","scale":{"domain":[0.5,2.5],"range":[114,215]},"axis":{"orient":"bottom","offset":-11,"title":null,"values":[1,2],"labelExpr":"datum.value == 1 ? 'DMSO' : 'VER155008'","labelFontSize":10.5,"ticks":false,"labelPadding":1}},
          "x2":{"field":"hi"},
          "color":{"field":"g","type":"nominal","scale":{"domain":["DMSO","VER155008"],"range":["#000000","#8a8a8a"]},"legend":null}}},
        {"data":{"name":"cInPt"},"mark":{"type":"circle","size":10,"opacity":1},
         "encoding":{"x":{"field":"pos","type":"quantitative"},"y":{"field":"v","type":"quantitative"},"color":{"field":"g","type":"nominal","legend":null}}}
      ]}
     ]},
    {"width":189,"height":158,
     "title":{"text":"D","dx":-46,"fontSize":15.5,"offset":5},
     "resolve":{"scale":{"x":"independent","y":"independent"},"axis":{"x":"independent","y":"independent"}},
     "layer":[
      {"layer":[
        {"data":{"name":"dFit"},"transform":[{"filter":"datum.s == 'C'"}],"mark":{"type":"line","color":"#999999","strokeWidth":1,"strokeDash":[1,3]},
         "encoding":{
          "x":{"field":"n","type":"quantitative","scale":{"domain":[0,2200]},"axis":{"title":"n","values":[0,500,1000,1500,2000],"labelExpr":"datum.value % 1000 == 0 ? datum.label : ''","format":"d","labelPadding":0.5,"titlePadding":-2}},
          "y":{"field":"y","type":"quantitative","scale":{"domain":[2,10]},"axis":{"title":"-Log(P(n))","values":[3,4.5,6,7.5,9],"labelExpr":"datum.value % 3 == 0 ? datum.label : ''","titlePadding":13,"labelPadding":3}}}},
        {"data":{"name":"dFit"},"transform":[{"filter":"datum.s == 'D'"}],"mark":{"type":"line","color":"#000000","strokeWidth":1.3},
         "encoding":{"x":{"field":"n","type":"quantitative"},"y":{"field":"y","type":"quantitative"}}},
        {"data":{"name":"dPts"},"mark":{"type":"point","opacity":1,"strokeWidth":0.8,"size":18},
         "encoding":{"x":{"field":"n","type":"quantitative"},"y":{"field":"y","type":"quantitative"},
          "shape":{"field":"s","type":"nominal","scale":{"domain":["Cycloheximide","DMSO Control"],"range":["square","triangle-up"]},"legend":{"title":null,"orient":"none","legendX":11,"legendY":-7.2,"labelFontSize":11.5,"rowPadding":3.5,"labelOffset":10,"symbolSize":20}},
          "stroke":{"field":"s","type":"nominal","scale":{"domain":["Cycloheximide","DMSO Control"],"range":["#8c8c8c","#000000"]},"legend":{"title":null,"orient":"none","legendX":11,"legendY":-7.2,"labelFontSize":11.5,"rowPadding":3.5,"labelOffset":10,"symbolSize":20}},
          "fill":{"field":"s","type":"nominal","scale":{"domain":["Cycloheximide","DMSO Control"],"range":["transparent","#000000"]},"legend":{"title":null,"orient":"none","legendX":11,"legendY":-7.2,"labelFontSize":11.5,"rowPadding":3.5,"labelOffset":10,"symbolSize":20}}}}
      ]},
      {"layer":[
        {"data":{"name":"dBar"},"mark":{"type":"bar"},
         "encoding":{
          "x":{"field":"g","type":"nominal","sort":["DMSO","Cycloheximide"],"scale":{"range":[109.5,212.5],"paddingInner":0.1,"paddingOuter":0.05},"axis":{"orient":"bottom","offset":-9.5,"title":null,"labelAngle":0,"ticks":false,"labelFontSize":10.5,"labelPadding":2}},
          "y":{"field":"v","type":"quantitative","scale":{"domain":[88,200],"range":[147.5,74.3],"zero":false},"axis":{"orient":"left","offset":-109.5,"title":"Radius (nm)","values":[90,100,150,200],"labelExpr":"datum.value == 90 ? '0' : datum.label","titleFontSize":11.5,"labelFontSize":11,"tickSize":3,"titlePadding":3}},
          "y2":{"datum":88},
          "color":{"field":"g","type":"nominal","scale":{"domain":["DMSO","Cycloheximide"],"range":["#000000","#8a8a8a"]},"legend":null}}},
        {"data":{"name":"dBar"},"mark":{"type":"rule","color":"#777777","strokeWidth":1},
         "encoding":{"x":{"field":"g","type":"nominal","sort":["DMSO","Cycloheximide"]},"y":{"field":"v","type":"quantitative"},"y2":{"field":"e"}}},
        {"data":{"name":"dBar"},"mark":{"type":"tick","color":"#777777","thickness":1,"size":6},
         "encoding":{"x":{"field":"g","type":"nominal","sort":["DMSO","Cycloheximide"]},"y":{"field":"e","type":"quantitative"}}}
      ]}
     ]}
 ]},
 {"bounds":"flush","spacing":51.5,
  "resolve":{"scale":{"color":"independent","shape":"independent","fill":"independent","stroke":"independent"}},
  "vconcat":[
   {"width":113,"height":91,"title":{"text":"E","dx":-31,"fontSize":17,"offset":0.1},
    "layer":[
     {"data":{"name":"efgFit"},"transform":[{"filter":"datum.s == 'U'"}],"mark":{"type":"line","color":"#9a9a9a","strokeWidth":0.8,"strokeDash":[3,2]},
      "encoding":{"x":{"field":"n","type":"quantitative","scale":{"domain":[0,2000],"nice":false},"axis":{"title":"n","values":[0,500,1000,1500,2000],"labelExpr":"datum.value % 1000 == 0 ? datum.label : ''","format":"d","tickSize":3,"labelPadding":1.5,"titlePadding":-3,"titleFontSize":12}},
       "y":{"field":"y","type":"quantitative","scale":{"domain":[1.5,7.9],"nice":false},"axis":{"title":"-Log(P(n))","values":[3,6],"format":"d","titlePadding":5,"titleFontSize":13}}}},
     {"data":{"name":"efgFit"},"transform":[{"filter":"datum.s == 'L'"}],"mark":{"type":"line","color":"#9a9a9a","strokeWidth":0.8,"strokeDash":[3,2]},
      "encoding":{"x":{"field":"n","type":"quantitative"},"y":{"field":"y","type":"quantitative"}}},
     {"data":{"name":"efgFit"},"transform":[{"filter":"datum.s == 'M' && datum.p == 'E'"}],"mark":{"type":"line","color":"#000000","strokeWidth":1.2},
      "encoding":{"x":{"field":"n","type":"quantitative"},"y":{"field":"y","type":"quantitative"}}},
     {"data":{"name":"efg"},"transform":[{"filter":"datum.p == 'all' || datum.p == 'E'"}],"mark":{"type":"point","opacity":1,"strokeWidth":0.7,"size":11},
      "encoding":{"x":{"field":"n","type":"quantitative"},"y":{"field":"y","type":"quantitative"},
       "shape":{"field":"s","type":"nominal","scale":{"domain":["Untreated","MG132 30 min","MG132 180 min"],"range":["square","triangle-up","circle"]},"legend":{"title":null,"orient":"none","legendX":-0.5,"legendY":-15.5,"labelFontSize":10.5,"rowPadding":0.8,"labelOffset":11,"symbolSize":14}},
       "stroke":{"field":"s","type":"nominal","scale":{"domain":["Untreated","MG132 30 min","MG132 180 min"],"range":["#8c8c8c","#000000","#8c8c8c"]},"legend":{"title":null,"orient":"none","legendX":-0.5,"legendY":-15.5,"labelFontSize":10.5,"rowPadding":0.8,"labelOffset":11,"symbolSize":14}},
       "fill":{"field":"s","type":"nominal","scale":{"domain":["Untreated","MG132 30 min","MG132 180 min"],"range":["transparent","#000000","transparent"]},"legend":{"title":null,"orient":"none","legendX":-0.5,"legendY":-15.5,"labelFontSize":10.5,"rowPadding":0.8,"labelOffset":11,"symbolSize":14}}}}
    ]},
   {"width":113,"height":93,"title":{"text":"F","dx":-30,"fontSize":17,"offset":-8.7},
    "layer":[
     {"data":{"name":"efgFit"},"transform":[{"filter":"datum.s == 'U'"}],"mark":{"type":"line","color":"#9a9a9a","strokeWidth":0.8,"strokeDash":[3,2]},
      "encoding":{"x":{"field":"n","type":"quantitative","scale":{"domain":[0,2000],"nice":false},"axis":{"title":"n","values":[0,500,1000,1500,2000],"labelExpr":"datum.value % 1000 == 0 ? datum.label : ''","format":"d","tickSize":3,"labelPadding":1.5,"titlePadding":-3,"titleFontSize":12}},
       "y":{"field":"y","type":"quantitative","scale":{"domain":[1.5,7.9],"nice":false},"axis":{"title":"-Log(P(n))","values":[3,6],"format":"d","titlePadding":4,"titleFontSize":13}}}},
     {"data":{"name":"efgFit"},"transform":[{"filter":"datum.s == 'L'"}],"mark":{"type":"line","color":"#9a9a9a","strokeWidth":0.8,"strokeDash":[3,2]},
      "encoding":{"x":{"field":"n","type":"quantitative"},"y":{"field":"y","type":"quantitative"}}},
     {"data":{"name":"efgFit"},"transform":[{"filter":"datum.s == 'M' && datum.p == 'F'"}],"mark":{"type":"line","color":"#000000","strokeWidth":1.2},
      "encoding":{"x":{"field":"n","type":"quantitative"},"y":{"field":"y","type":"quantitative"}}},
     {"data":{"name":"efg"},"transform":[{"filter":"datum.p == 'all' || datum.p == 'F'"}],"mark":{"type":"point","opacity":1,"strokeWidth":0.7,"size":11},
      "encoding":{"x":{"field":"n","type":"quantitative"},"y":{"field":"y","type":"quantitative"},
       "shape":{"field":"s","type":"nominal","scale":{"domain":["Untreated","MG132 120 min","MG132 180 min"],"range":["square","triangle-up","circle"]},"legend":{"title":null,"orient":"none","legendX":2,"legendY":-13.3,"labelFontSize":10.5,"rowPadding":0,"labelOffset":11,"symbolSize":14}},
       "stroke":{"field":"s","type":"nominal","scale":{"domain":["Untreated","MG132 120 min","MG132 180 min"],"range":["#8c8c8c","#000000","#8c8c8c"]},"legend":{"title":null,"orient":"none","legendX":2,"legendY":-13.3,"labelFontSize":10.5,"rowPadding":0,"labelOffset":11,"symbolSize":14}},
       "fill":{"field":"s","type":"nominal","scale":{"domain":["Untreated","MG132 120 min","MG132 180 min"],"range":["transparent","#000000","transparent"]},"legend":{"title":null,"orient":"none","legendX":2,"legendY":-13.3,"labelFontSize":10.5,"rowPadding":0,"labelOffset":11,"symbolSize":14}}}}
    ]},
   {"width":113,"height":94,"title":{"text":"G","dx":-31.5,"fontSize":17,"offset":-1.5},
    "layer":[
     {"data":{"name":"efgFit"},"transform":[{"filter":"datum.s == 'U'"}],"mark":{"type":"line","color":"#9a9a9a","strokeWidth":0.8,"strokeDash":[3,2]},
      "encoding":{"x":{"field":"n","type":"quantitative","scale":{"domain":[0,2000],"nice":false},"axis":{"title":"n","values":[0,500,1000,1500,2000],"labelExpr":"datum.value % 1000 == 0 ? datum.label : ''","format":"d","tickSize":3,"labelPadding":1.5,"titlePadding":-3,"titleFontSize":12}},
       "y":{"field":"y","type":"quantitative","scale":{"domain":[1.5,7.95],"nice":false},"axis":{"title":"-Log(P(n))","values":[3,6],"format":"d","titlePadding":7,"titleFontSize":13}}}},
     {"data":{"name":"efgFit"},"transform":[{"filter":"datum.s == 'L'"}],"mark":{"type":"line","color":"#9a9a9a","strokeWidth":0.8,"strokeDash":[3,2]},
      "encoding":{"x":{"field":"n","type":"quantitative"},"y":{"field":"y","type":"quantitative"}}},
     {"data":{"name":"efgFit"},"transform":[{"filter":"datum.s == 'M' && datum.p == 'G'"}],"mark":{"type":"line","color":"#000000","strokeWidth":1.2},
      "encoding":{"x":{"field":"n","type":"quantitative"},"y":{"field":"y","type":"quantitative"}}},
     {"data":{"name":"efg"},"transform":[{"filter":"datum.p == 'all' || datum.p == 'G'"}],"mark":{"type":"point","opacity":1,"strokeWidth":0.7,"size":11},
      "encoding":{"x":{"field":"n","type":"quantitative"},"y":{"field":"y","type":"quantitative"},
       "shape":{"field":"s","type":"nominal","scale":{"domain":["Untreated","MG132 150 min","MG132 180 min"],"range":["square","triangle-up","circle"]},"legend":{"title":null,"orient":"none","legendX":0,"legendY":-18,"labelFontSize":10.5,"rowPadding":0,"labelOffset":12,"symbolSize":14}},
       "stroke":{"field":"s","type":"nominal","scale":{"domain":["Untreated","MG132 150 min","MG132 180 min"],"range":["#8c8c8c","#000000","#8c8c8c"]},"legend":{"title":null,"orient":"none","legendX":0,"legendY":-18,"labelFontSize":10.5,"rowPadding":0,"labelOffset":12,"symbolSize":14}},
       "fill":{"field":"s","type":"nominal","scale":{"domain":["Untreated","MG132 150 min","MG132 180 min"],"range":["transparent","#000000","transparent"]},"legend":{"title":null,"orient":"none","legendX":0,"legendY":-18,"labelFontSize":10.5,"rowPadding":0,"labelOffset":12,"symbolSize":14}}}}
    ]}
  ]}
]
}
